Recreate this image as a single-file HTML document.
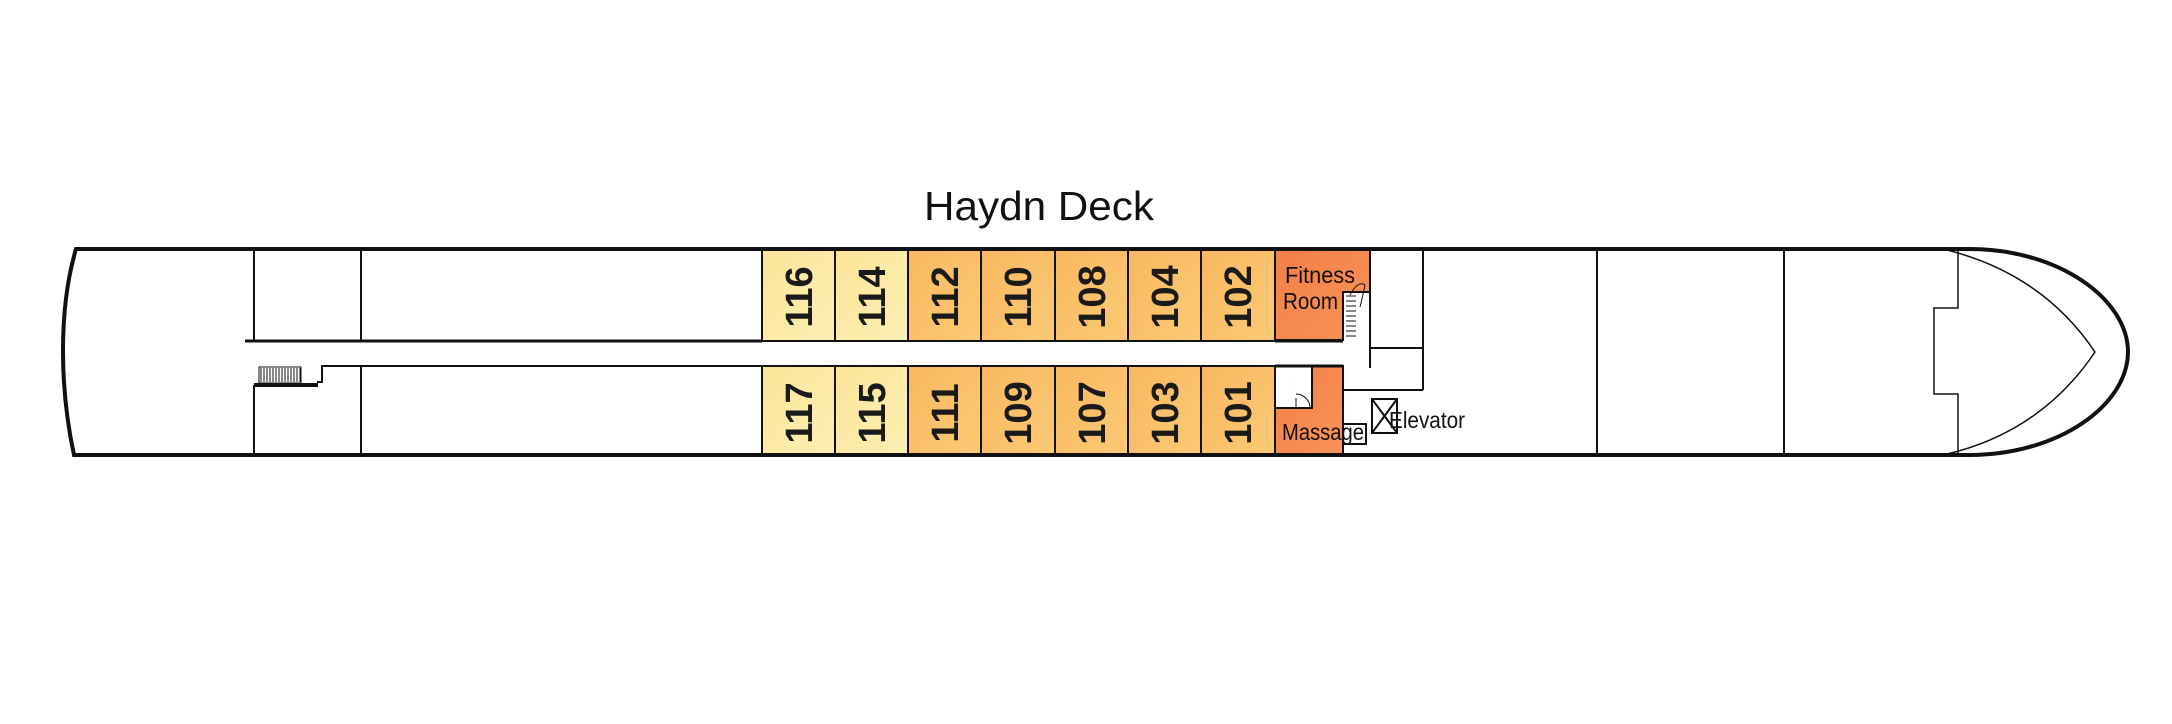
<!DOCTYPE html>
<html><head><meta charset="utf-8"><style>
html,body{margin:0;padding:0;background:#fff;}
svg{display:block;}
text{font-family:"Liberation Sans",sans-serif;}
</style></head><body>
<svg width="2172" height="724" viewBox="0 0 2172 724" xmlns="http://www.w3.org/2000/svg">
<defs>
<linearGradient id="y" x1="0" y1="0" x2="1" y2="1"><stop offset="0" stop-color="#fbe496"/><stop offset="1" stop-color="#fcefb4"/></linearGradient>
<linearGradient id="o" x1="0" y1="0" x2="1" y2="1"><stop offset="0" stop-color="#f8b85e"/><stop offset="1" stop-color="#fcc975"/></linearGradient>
<linearGradient id="r" x1="0" y1="0" x2="1" y2="1"><stop offset="0" stop-color="#f37f45"/><stop offset="1" stop-color="#f8945a"/></linearGradient>
</defs>
<rect width="2172" height="724" fill="#fff"/>
<text x="1039" y="220" font-size="41" text-anchor="middle" fill="#111" textLength="230" lengthAdjust="spacingAndGlyphs">Haydn Deck</text>

<g stroke="#111" stroke-width="2">
<rect x="762" y="249" width="73" height="92" fill="url(#y)"/>
<rect x="835" y="249" width="73" height="92" fill="url(#y)"/>
<rect x="908" y="249" width="73" height="92" fill="url(#o)"/>
<rect x="981" y="249" width="74" height="92" fill="url(#o)"/>
<rect x="1055" y="249" width="73" height="92" fill="url(#o)"/>
<rect x="1128" y="249" width="73" height="92" fill="url(#o)"/>
<rect x="1201" y="249" width="74" height="92" fill="url(#o)"/>
<rect x="762" y="366" width="73" height="89" fill="url(#y)"/>
<rect x="835" y="366" width="73" height="89" fill="url(#y)"/>
<rect x="908" y="366" width="73" height="89" fill="url(#o)"/>
<rect x="981" y="366" width="74" height="89" fill="url(#o)"/>
<rect x="1055" y="366" width="73" height="89" fill="url(#o)"/>
<rect x="1128" y="366" width="73" height="89" fill="url(#o)"/>
<rect x="1201" y="366" width="74" height="89" fill="url(#o)"/>
<path d="M1275 249 H1370 V292 H1343 V340 H1275 Z" fill="url(#r)"/>
<path d="M1275 366 H1343 V455 H1275 Z" fill="url(#r)"/>
<rect x="1275" y="366" width="37" height="42" fill="#fff"/>
</g>
<g font-size="38" font-weight="bold" fill="#1a1a1a" text-anchor="middle">
<text transform="translate(812,297) rotate(-90)">116</text>
<text transform="translate(885,297) rotate(-90)">114</text>
<text transform="translate(958,297) rotate(-90)">112</text>
<text transform="translate(1031,297) rotate(-90)">110</text>
<text transform="translate(1105,297) rotate(-90)">108</text>
<text transform="translate(1178,297) rotate(-90)">104</text>
<text transform="translate(1251,297) rotate(-90)">102</text>
<text transform="translate(812,413) rotate(-90)">117</text>
<text transform="translate(885,413) rotate(-90)">115</text>
<text transform="translate(958,413) rotate(-90)">111</text>
<text transform="translate(1031,413) rotate(-90)">109</text>
<text transform="translate(1105,413) rotate(-90)">107</text>
<text transform="translate(1178,413) rotate(-90)">103</text>
<text transform="translate(1251,413) rotate(-90)">101</text>
</g>
<g font-size="23" fill="#111">
<text x="1285" y="283" textLength="70" lengthAdjust="spacingAndGlyphs">Fitness</text>
<text x="1283" y="309" textLength="55" lengthAdjust="spacingAndGlyphs">Room</text>
<text x="1282" y="440" textLength="82" lengthAdjust="spacingAndGlyphs">Massage</text>
<text x="1389" y="428" textLength="76" lengthAdjust="spacingAndGlyphs">Elevator</text>
</g>

<g fill="none" stroke="#111">
<path d="M76 249 H1969 C2060 249 2128 300 2128 352 C2128 404 2060 455 1969 455 H74 C60 390 58 310 76 249 Z" stroke-width="4"/>
<g stroke-width="2">
<line x1="254" y1="249" x2="254" y2="341"/>
<line x1="361" y1="249" x2="361" y2="341"/>
<line x1="245" y1="341" x2="762" y2="341" stroke-width="3"/>
<path d="M762 366 H322 V382 H317"/>
<line x1="254" y1="385" x2="318" y2="385" stroke-width="4"/>
<line x1="254" y1="385" x2="254" y2="455"/>
<line x1="361" y1="366" x2="361" y2="455"/>
<line x1="1275" y1="341" x2="1343" y2="341" stroke-width="3"/>
<line x1="1275" y1="366" x2="1343" y2="366" stroke-width="3"/>
<line x1="1370" y1="292" x2="1370" y2="368"/>
<line x1="1423" y1="249" x2="1423" y2="390"/>
<line x1="1370" y1="348" x2="1423" y2="348"/>
<line x1="1343" y1="390" x2="1423" y2="390"/>
<line x1="1597" y1="249" x2="1597" y2="455"/>
<line x1="1784" y1="249" x2="1784" y2="455"/>
<rect x="1343" y="424" width="23" height="20"/>
<rect x="1372" y="399" width="25" height="34"/>
<path d="M1372 399 L1397 433 M1397 399 L1372 433"/>
</g>
<path d="M1958 249 V308 H1934 V394 H1958 V455" stroke-width="1.5"/>
<path d="M1943 249 C2010 265 2060 300 2095 352 C2060 404 2010 440 1943 455" stroke-width="1.5"/>
<g stroke-width="1">
<path d="M261 368v14M264 368v14M267 368v14M270 368v14M273 368v14M276 368v14M279 368v14M282 368v14M285 368v14M288 368v14M291 368v14M294 368v14M297 368v14M300 368v14"/>
<rect x="259" y="367" width="42" height="16"/>
<path d="M1346 296h10M1346 301h10M1346 306h10M1346 311h10M1346 316h10M1346 321h10M1346 326h10M1346 331h10M1346 336h10"/>
<path d="M1350 295 q8 -15 15 -10 q-2 10 -5 22"/>
<path d="M1296 408 v-10 M1310 408 a14 14 0 0 0 -14 -14"/>
</g>
</g>
</svg>
</body></html>
